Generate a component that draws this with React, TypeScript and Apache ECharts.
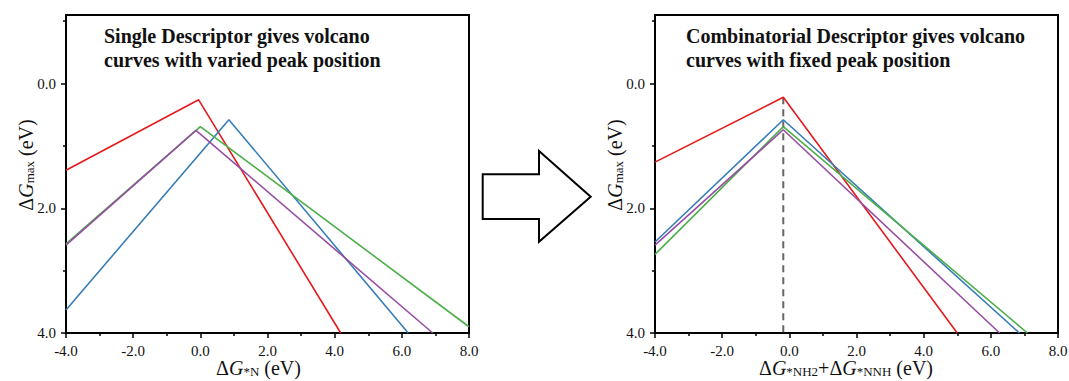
import React, { useEffect, useRef } from "react";
import * as echarts from "echarts";

const FONT = "'Liberation Serif', 'Times New Roman', serif";

const X_MIN = -4;
const X_MAX = 8;
const X_INTERVAL = 2;
const Y_MIN = -1.1;
const Y_MAX = 4;
const yMajorTicks = [0, 2, 4];
const yMinorTicks = [-1, 1, 3];

const leftTitle = "Single Descriptor gives volcano\ncurves with varied peak position";
const rightTitle = "Combinatorial Descriptor gives volcano\ncurves with fixed peak position";

// Left panel: single descriptor
const leftRed = [[-4, 1.39], [-0.05, 0.26], [4.18, 4.0]];
const leftBlue = [[-4, 3.63], [0.85, 0.58], [6.19, 4.0]];
const leftGreen = [[-4, 2.57], [0.0, 0.69], [8.0, 3.9]];
const leftPurple = [[-4, 2.59], [-0.13, 0.75], [6.92, 4.0]];

// Right panel: combinatorial descriptor
const rightDashed = [[-0.18, 0.22], [-0.18, 4.0]];
const rightRed = [[-4, 1.26], [-0.18, 0.22], [5.0, 4.0]];
const rightBlue = [[-4, 2.54], [-0.18, 0.58], [6.85, 4.0]];
const rightGreen = [[-4, 2.74], [-0.18, 0.69], [7.09, 4.0]];
const rightPurple = [[-4, 2.59], [-0.18, 0.74], [6.26, 4.0]];

const RED = "#E41A1C";
const BLUE = "#377EB8";
const GREEN = "#4DAF4A";
const PURPLE = "#984EA3";

const nameRich = {
  m: { fontSize: 20, fontFamily: FONT, lineHeight: 20, color: "#111" },
  g: { fontSize: 20, fontFamily: FONT, fontStyle: "italic", lineHeight: 20, color: "#111" },
  s: { fontSize: 13, fontFamily: FONT, lineHeight: 10, verticalAlign: "bottom", color: "#111" },
};

const leftXName = "{m|Δ}{g|G}{s|*N}{m| (eV)}";
const rightXName = "{m|Δ}{g|G}{s|*NH2}{m|+Δ}{g|G}{s|*NNH}{m| (eV)}";
const yName = "{m|Δ}{g|G}{s|max}{m| (eV)}";

const fmt = (v: number) => v.toFixed(1);

function makeX(gridIndex: number, name: string, padRight: number) {
  return {
    type: "value",
    gridIndex,
    min: X_MIN,
    max: X_MAX,
    interval: X_INTERVAL,
    axisLine: { show: true, onZero: false, lineStyle: { color: "#000", width: 2 } },
    axisTick: { show: true, inside: false, length: 5, lineStyle: { color: "#000", width: 1.5 } },
    minorTick: { show: true, splitNumber: 2, length: 3, lineStyle: { color: "#000", width: 1.5 } },
    axisLabel: { formatter: fmt, fontSize: 15, color: "#111", fontFamily: FONT, margin: 10 },
    splitLine: { show: false },
    minorSplitLine: { show: false },
    name,
    nameLocation: "middle",
    nameGap: 25,
    nameMoveOverlap: false,
    nameTextStyle: { fontFamily: FONT, rich: nameRich, padding: [0, padRight, 0, 0] },
  };
}

function makeYMain(gridIndex: number) {
  return {
    type: "value",
    gridIndex,
    min: Y_MIN,
    max: Y_MAX,
    inverse: true,
    axisLine: { show: true, onZero: false, lineStyle: { color: "#000", width: 2 } },
    axisTick: { show: true, inside: false, length: 5, customValues: yMajorTicks, lineStyle: { color: "#000", width: 1.5 } },
    axisLabel: { customValues: yMajorTicks, formatter: fmt, fontSize: 15, color: "#111", fontFamily: FONT, margin: 10 },
    splitLine: { show: false },
    name: yName,
    nameLocation: "middle",
    nameGap: 30,
    nameMoveOverlap: false,
    nameTextStyle: { fontFamily: FONT, rich: nameRich, padding: [0, 0, 0, 18] },
  };
}

function makeYMinor(gridIndex: number) {
  return {
    type: "value",
    gridIndex,
    min: Y_MIN,
    max: Y_MAX,
    inverse: true,
    position: "left",
    axisLine: { show: true, onZero: false, lineStyle: { color: "#000", width: 2 } },
    axisTick: { show: true, inside: false, length: 3, customValues: yMinorTicks, lineStyle: { color: "#000", width: 1.5 } },
    axisLabel: { show: false },
    splitLine: { show: false },
  };
}

function line(data: number[][], color: string, xAxisIndex: number, yAxisIndex: number, dashed = false) {
  return {
    type: "line",
    xAxisIndex,
    yAxisIndex,
    data,
    symbol: "none",
    silent: true,
    lineStyle: { color, width: dashed ? 2 : 1.6, type: dashed ? [7, 5] : "solid" },
    z: dashed ? 1 : 2,
  };
}

export default function App() {
  const ref = useRef<HTMLDivElement>(null);
  useEffect(() => {
    if (!ref.current) return;
    const chart = echarts.init(ref.current, undefined, { renderer: "svg" });
    const titleStyle = {
      fontSize: 20,
      fontWeight: "bold",
      fontFamily: FONT,
      fill: "#111",
      lineHeight: 24,
      verticalAlign: "top",
    };
    chart.setOption({
      animation: false,
      backgroundColor: "#fff",
      textStyle: { fontFamily: FONT },
      grid: [
        { left: 66, top: 15, width: 403, height: 318, show: true, borderColor: "#000", borderWidth: 2, outerBoundsMode: "none" },
        { left: 655, top: 15, width: 403, height: 318, show: true, borderColor: "#000", borderWidth: 2, outerBoundsMode: "none" },
      ],
      xAxis: [makeX(0, leftXName, 18), makeX(1, rightXName, 21)],
      yAxis: [makeYMain(0), makeYMinor(0), makeYMain(1), makeYMinor(1)],
      series: [
        line(leftRed, RED, 0, 0),
        line(leftBlue, BLUE, 0, 0),
        line(leftGreen, GREEN, 0, 0),
        line(leftPurple, PURPLE, 0, 0),
        line(rightDashed, "#666", 1, 2, true),
        line(rightRed, RED, 1, 2),
        line(rightBlue, BLUE, 1, 2),
        line(rightGreen, GREEN, 1, 2),
        line(rightPurple, PURPLE, 1, 2),
      ],
      graphic: [
        { type: "text", x: 104, y: 24, style: { ...titleStyle, text: leftTitle } },
        { type: "text", x: 686, y: 24, style: { ...titleStyle, text: rightTitle } },
        {
          type: "polygon",
          shape: {
            points: [
              [482.7, 174.3],
              [539, 174.3],
              [539, 151],
              [590.7, 196.7],
              [539, 241.7],
              [539, 219],
              [482.7, 219],
            ],
          },
          style: { fill: "#fff", stroke: "#000", lineWidth: 2 },
        },
      ],
    });
    return () => chart.dispose();
  }, []);
  return (
    <div
      ref={ref}
      style={{ position: "absolute", left: 0, top: 0, width: 1069, height: 381 }}
    />
  );
}
